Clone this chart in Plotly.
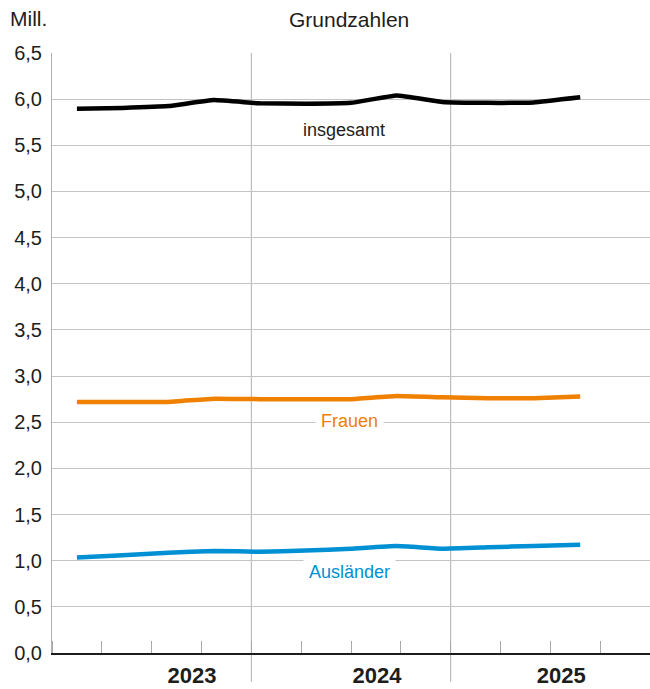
import plotly.graph_objects as go

# Zeitachse in Monaten ab Jan 2023 (0 .. 36), Werte in Mill.
monat = [1.5, 4.25, 7.0, 9.75, 12.5, 15.25, 18.0, 20.75, 23.5, 26.25, 29.0, 31.8]
insgesamt = [5.895, 5.905, 5.925, 5.99, 5.955, 5.95, 5.96, 6.04, 5.97, 5.96, 5.965, 6.02]
frauen = [2.72, 2.72, 2.72, 2.755, 2.75, 2.75, 2.75, 2.785, 2.77, 2.76, 2.76, 2.78]
auslaender = [1.035, 1.06, 1.085, 1.105, 1.097, 1.11, 1.13, 1.158, 1.13, 1.145, 1.16, 1.172]

jahre = ["2023", "2024", "2025"]
jahr_pos = [8.43, 19.56, 30.66]
jahr_grenzen = [12, 24]

FONT = "Liberation Sans, Arial, sans-serif"
SCHWARZ = "#1d1d1b"
ORANGE = "#EF8000"
BLAU = "#0090D3"
GRAU = "#C4C4C4"

fig = go.Figure()

fig.add_trace(go.Scatter(x=monat, y=insgesamt, mode="lines",
                         line=dict(color="#000000", width=4.5, shape="spline", smoothing=0.3)))
fig.add_trace(go.Scatter(x=monat, y=frauen, mode="lines",
                         line=dict(color=ORANGE, width=4.5, shape="spline", smoothing=0.3)))
fig.add_trace(go.Scatter(x=monat, y=auslaender, mode="lines",
                         line=dict(color=BLAU, width=4.5, shape="spline", smoothing=0.3)))

# Trennlinien zwischen den Jahren (reichen bis unter die Jahreszahlen)
for g in jahr_grenzen:
    fig.add_shape(type="line", xref="x", yref="paper", x0=g, x1=g, y0=-0.048, y1=1,
                  line=dict(color="#B0B0B0", width=1), layer="below")

# Reihenbeschriftungen
fig.add_annotation(x=17.6, y=5.67, text="insgesamt", showarrow=False,
                   font=dict(family=FONT, size=18, color=SCHWARZ))
fig.add_annotation(x=17.9, y=2.5, yshift=1, text="Frauen", showarrow=False,
                   bgcolor="white", borderpad=5,
                   font=dict(family=FONT, size=18, color=ORANGE))
fig.add_annotation(x=17.9, y=1.0, yshift=-11, text="Ausländer", showarrow=False,
                   bgcolor="white", borderpad=5,
                   font=dict(family=FONT, size=18, color=BLAU))

# Kopfzeile
fig.add_annotation(xref="paper", yref="paper", x=-0.0736, y=1, yshift=35,
                   xanchor="left", yanchor="middle", text="Mill.", showarrow=False,
                   font=dict(family=FONT, size=21, color=SCHWARZ))
fig.add_annotation(xref="paper", yref="paper", x=0.497, y=1, yshift=34,
                   xanchor="center", yanchor="middle", text="Grundzahlen", showarrow=False,
                   font=dict(family=FONT, size=21, color=SCHWARZ))

fig.update_layout(
    width=650, height=689,
    margin=dict(l=52, r=0, t=53, b=36),
    paper_bgcolor="white", plot_bgcolor="white",
    showlegend=False,
    separators=",.",
    font=dict(family=FONT, color=SCHWARZ),
    xaxis=dict(
        range=[0, 36], showgrid=False, zeroline=False,
        showline=True, linecolor=SCHWARZ, linewidth=2,
        tickvals=jahr_pos, ticktext=jahre, ticks="", ticklabelstandoff=2,
        tickfont=dict(family=FONT, size=22, weight="bold", color=SCHWARZ),
        minor=dict(tick0=0, dtick=3, ticks="inside", ticklen=12,
                   tickcolor="#A8A8A8", tickwidth=1, showgrid=False),
    ),
    yaxis=dict(
        range=[0, 6.5], dtick=0.5, tickformat=".1f",
        showgrid=True, gridcolor=GRAU, gridwidth=1, zeroline=False,
        showline=True, linecolor="#B0B0B0", linewidth=1,
        ticks="", ticklabelstandoff=5,
        tickfont=dict(family=FONT, size=20, color=SCHWARZ),
    ),
)

fig.write_html("out.html", config={"displayModeBar": False},
               post_script="document.body.style.margin='0';")
